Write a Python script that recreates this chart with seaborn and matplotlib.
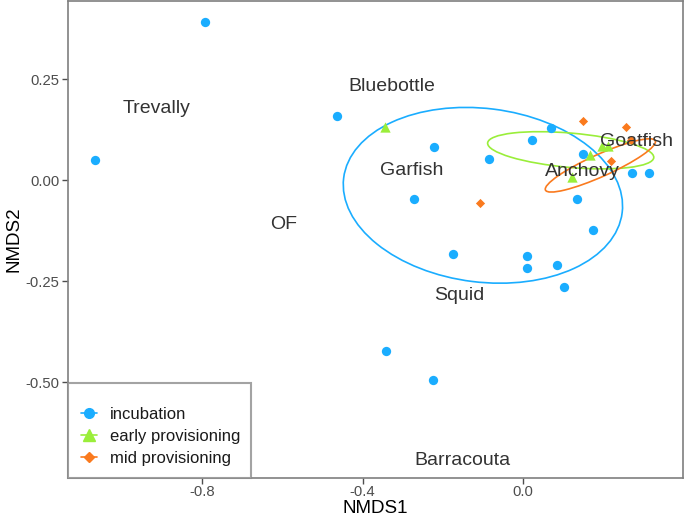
import numpy as np
import pandas as pd
import matplotlib.pyplot as plt
from matplotlib.patches import Ellipse
from matplotlib.lines import Line2D
import seaborn as sns

sns.set_theme(style="white")
plt.rcParams['font.family'] = ['Liberation Sans', 'DejaVu Sans']

# NMDS site scores per breeding stage
incubation_x = [-0.793, -1.067, -0.464, -0.222, -0.086, 0.022, 0.071, 0.149, 0.271, 0.314,
                0.134, -0.272, 0.174, -0.174, 0.011, 0.010, 0.086, 0.102, -0.342, -0.224]
incubation_y = [0.392, 0.050, 0.159, 0.083, 0.052, 0.101, 0.130, 0.066, 0.019, 0.019,
                -0.046, -0.045, -0.122, -0.182, -0.188, -0.216, -0.209, -0.263, -0.422, -0.494]
early_x = [-0.345, 0.196, 0.212, 0.168, 0.121]
early_y = [0.132, 0.085, 0.085, 0.062, 0.008]
mid_x = [0.149, 0.256, 0.219, -0.107, 0.270]
mid_y = [0.147, 0.131, 0.048, -0.055, 0.100]

stages = ["incubation", "early provisioning", "mid provisioning"]
stage_colors = ["#1AADFF", "#9AEE3A", "#FA7A1E"]
stage_markers = ["o", "^", "D"]

# ellipse per stage: centre x, centre y, width, height, angle
ell_cx = [-0.100, 0.119, 0.193]
ell_cy = [-0.037, 0.0745, 0.037]
ell_w = [0.70, 0.416, 0.30]
ell_h = [0.43, 0.085, 0.055]
ell_angle = [-7, -5, 24]

# prey species scores
species = ["Trevally", "Bluebottle", "Garfish", "OF", "Squid", "Goatfish", "Anchovy", "Barracouta"]
species_x = [-0.913, -0.327, -0.277, -0.596, -0.160, 0.284, 0.147, -0.150]
species_y = [0.179, 0.233, 0.025, -0.109, -0.286, 0.097, 0.022, -0.693]

df = pd.DataFrame({
    "NMDS1": incubation_x + early_x + mid_x,
    "NMDS2": incubation_y + early_y + mid_y,
    "stage": [stages[0]] * len(incubation_x) + [stages[1]] * len(early_x) + [stages[2]] * len(mid_x),
})

fig = plt.figure(figsize=(6.85, 5.21), dpi=100)
ax = fig.add_axes([0.0993, 0.0825, 0.8977, 0.9155])

sizes = {"incubation": 45, "early provisioning": 55, "mid provisioning": 22}
for st, col, mk in zip(stages, stage_colors, stage_markers):
    sub = df[df["stage"] == st]
    sns.scatterplot(data=sub, x="NMDS1", y="NMDS2", color=col, marker=mk,
                    s=sizes[st], linewidth=0, ax=ax, legend=False, zorder=3)

for i, col in enumerate(stage_colors):
    ax.add_patch(Ellipse((ell_cx[i], ell_cy[i]), ell_w[i], ell_h[i], angle=ell_angle[i],
                         fill=False, edgecolor=col, linewidth=1.2, zorder=2))

for name, x, y in zip(species, species_x, species_y):
    ax.text(x, y, name, fontsize=14, color="#333333", ha="center", va="center", zorder=4)

ax.set_xlim(-1.135, 0.399)
ax.set_ylim(-0.737, 0.444)
ax.set_xticks([-0.8, -0.4, 0.0])
ax.set_xticklabels(["-0.8", "-0.4", "0.0"])
ax.set_yticks([0.25, 0.0, -0.25, -0.5])
ax.set_yticklabels(["0.25", "0.00", "-0.25", "-0.50"])
ax.tick_params(axis="both", which="both", direction="out", length=4, width=1,
               color="#4D4D4D", labelcolor="#4D4D4D", labelsize=10.7, bottom=True, left=True, pad=2)
ax.tick_params(axis="x", pad=1)
for sp in ax.spines.values():
    sp.set_color("#7F7F7F")
    sp.set_linewidth(1.2)

ax.set_xlabel("NMDS1", fontsize=13.5, color="black", labelpad=1)
ax.set_ylabel("NMDS2", fontsize=13.5, color="black", labelpad=2)

handles = [Line2D([0], [0], color=c, marker=m, markersize=ms, linewidth=1.2, label=s)
           for s, c, m, ms in zip(stages, stage_colors, stage_markers, [7, 8, 5])]
leg = ax.legend(handles=handles, loc="lower left", bbox_to_anchor=(0.0, 0.0, 0.298, 0.2),
                mode="expand", fontsize=12, title=" ", title_fontsize=2, frameon=True,
                fancybox=False, handlelength=1.0, handletextpad=0.78, labelspacing=0.42,
                borderpad=0.75, borderaxespad=0)
leg.get_frame().set_edgecolor("#8C8C8C")
leg.get_frame().set_linewidth(1.5)
for t in leg.get_texts():
    t.set_color("#1A1A1A")

fig.savefig("out.png", dpi=100)
